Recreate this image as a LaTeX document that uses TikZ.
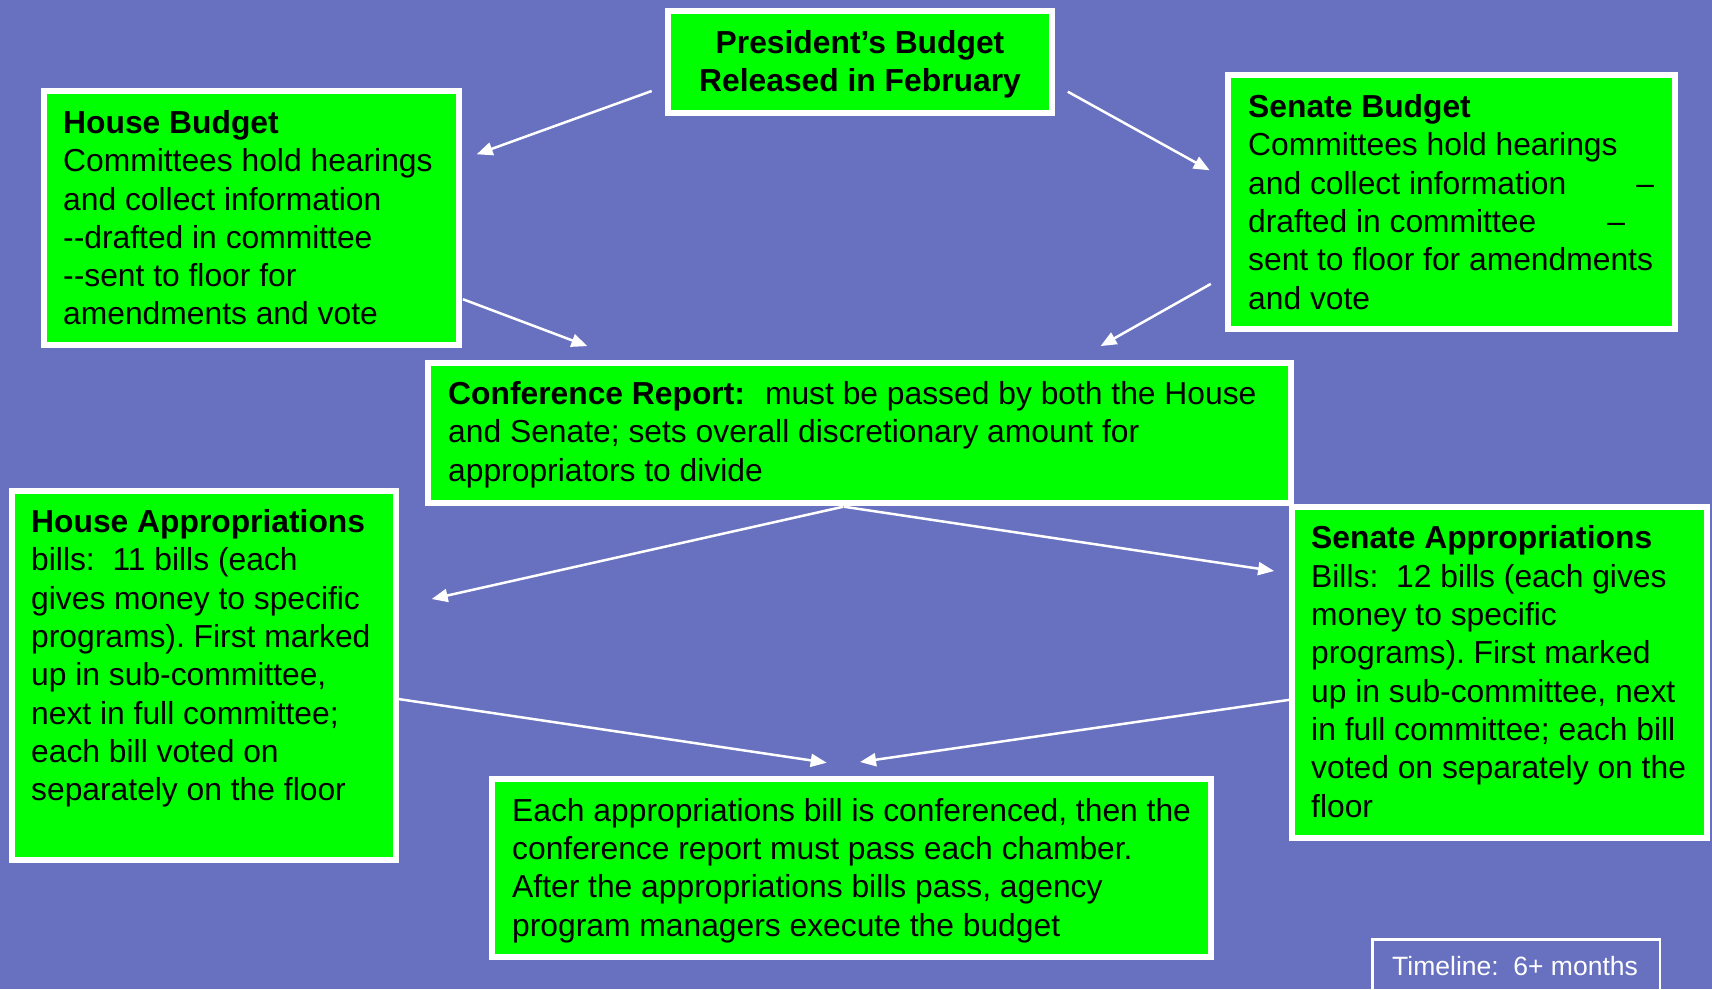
\documentclass[tikz,border=0pt]{standalone}
\usepackage{fontspec}
\setmainfont{Liberation Sans}
\usetikzlibrary{arrows.meta}
\definecolor{bgblue}{RGB}{104,112,192}
\definecolor{boxgreen}{RGB}{0,255,0}
\begin{document}
\frenchspacing
\begin{tikzpicture}[x=1pt,y=-1pt,
  box/.style={draw=white,fill=boxgreen,line width=6pt,anchor=north west,inner sep=0pt,outer sep=0pt},
  txt/.style={anchor=north west,inner sep=0pt,align=left,font=\fontsize{31.8}{38.3}\selectfont\frenchspacing,text=black},
  conn/.style={draw=white,line width=2.5pt,-{Triangle[length=16pt,width=13pt]}}]
\useasboundingbox (0,0) rectangle (1712,989);
\fill[bgblue] (0,0) rectangle (1712,989);

% boxes
\node[box,minimum width=384pt,minimum height=102pt] (pres) at (668,11) {};
\node[box,minimum width=415pt,minimum height=254pt] (hb) at (44,91) {};
\node[box,minimum width=447pt,minimum height=254pt] (sb) at (1228,75) {};
\node[box,minimum width=863pt,minimum height=140pt] (conf) at (428,363) {};
\node[box,minimum width=384pt,minimum height=369pt] (ha) at (12,491) {};
\node[box,minimum width=415pt,minimum height=331pt] (sa) at (1292,507) {};
\node[box,minimum width=719pt,minimum height=178pt] (bot) at (492,779) {};
\node[draw=white,line width=2.5pt,anchor=north west,inner sep=0pt,outer sep=0pt,minimum width=287.5pt,minimum height=100pt] (tl) at (1372.25,939.25) {};

% texts
\node[txt,anchor=north,align=center] (prestxt) at (860,26.2) {\strut\textbf{President’s Budget}\\\textbf{Released in February}};
\node[txt] (hbtxt) at (63,106.4) {\strut\textbf{House Budget}\\
Committees hold hearings\\
and collect information\\
-{}-drafted in committee\\
-{}-sent to floor for\\
amendments and vote};
\node[txt] (sbtxt) at (1248,90.5) {\strut\textbf{Senate Budget}\\
Committees hold hearings\\
\makebox[406pt][l]{and collect information\hfill –}\\
\makebox[406pt][l]{drafted in committee\hfill –\hspace{29pt}}\\
sent to floor for amendments\\
and vote};
\node[txt] (conftxt) at (448,377.4) {\strut\textbf{Conference Report:}\hspace{20pt}must be passed by both the House\\
and Senate; sets overall discretionary amount for\\
appropriators to divide};
\node[txt] (hatxt) at (31,505.5) {\strut\textbf{House Appropriations}\\
bills:\hspace{17.8pt}11 bills (each\\
gives money to specific\\
programs). First marked\\
up in sub-committee,\\
next in full committee;\\
each bill voted on\\
separately on the floor};
\node[txt] (satxt) at (1311,521.9) {\strut\textbf{Senate Appropriations}\\
Bills:\hspace{17.8pt}12 bills (each gives\\
money to specific\\
programs). First marked\\
up in sub-committee, next\\
in full committee; each bill\\
voted on separately on the\\
floor};
\node[txt] (bottxt) at (512,794.2) {\strut Each appropriations bill is conferenced, then the\\
conference report must pass each chamber.\\
After the appropriations bills pass, agency\\
program managers execute the budget};
\node[txt,font=\fontsize{26.5}{31.8}\selectfont,text=white] (tltxt) at (1392,952.7) {\strut Timeline:\hspace{14.7pt}6+ months};

% connector end points
\coordinate (p-hb-s) at (651.7,91);
\coordinate (p-hb-e) at (476.7,154.3);
\coordinate (p-sb-s) at (1067.8,91.7);
\coordinate (p-sb-e) at (1209.7,170.3);
\coordinate (hb-c-s) at (462.9,299.2);
\coordinate (hb-c-e) at (587.4,346.1);
\coordinate (sb-c-s) at (1210.8,283.9);
\coordinate (sb-c-e) at (1100.5,346.1);
\coordinate (c-ha-s) at (843.3,506.7);
\coordinate (c-ha-e) at (431.7,599);
\coordinate (c-sa-s) at (844,506.7);
\coordinate (c-sa-e) at (1274.1,571);
\coordinate (ha-b-s) at (398.3,699);
\coordinate (ha-b-e) at (826.7,762.7);
\coordinate (sa-b-s) at (1289.4,699.8);
\coordinate (sa-b-e) at (860,762);

\draw[conn] (p-hb-s) -- (p-hb-e);
\draw[conn] (p-sb-s) -- (p-sb-e);
\draw[conn] (hb-c-s) -- (hb-c-e);
\draw[conn] (sb-c-s) -- (sb-c-e);
\draw[conn] (c-ha-s) -- (c-ha-e);
\draw[conn] (c-sa-s) -- (c-sa-e);
\draw[conn] (ha-b-s) -- (ha-b-e);
\draw[conn] (sa-b-s) -- (sa-b-e);
\end{tikzpicture}
\end{document}
